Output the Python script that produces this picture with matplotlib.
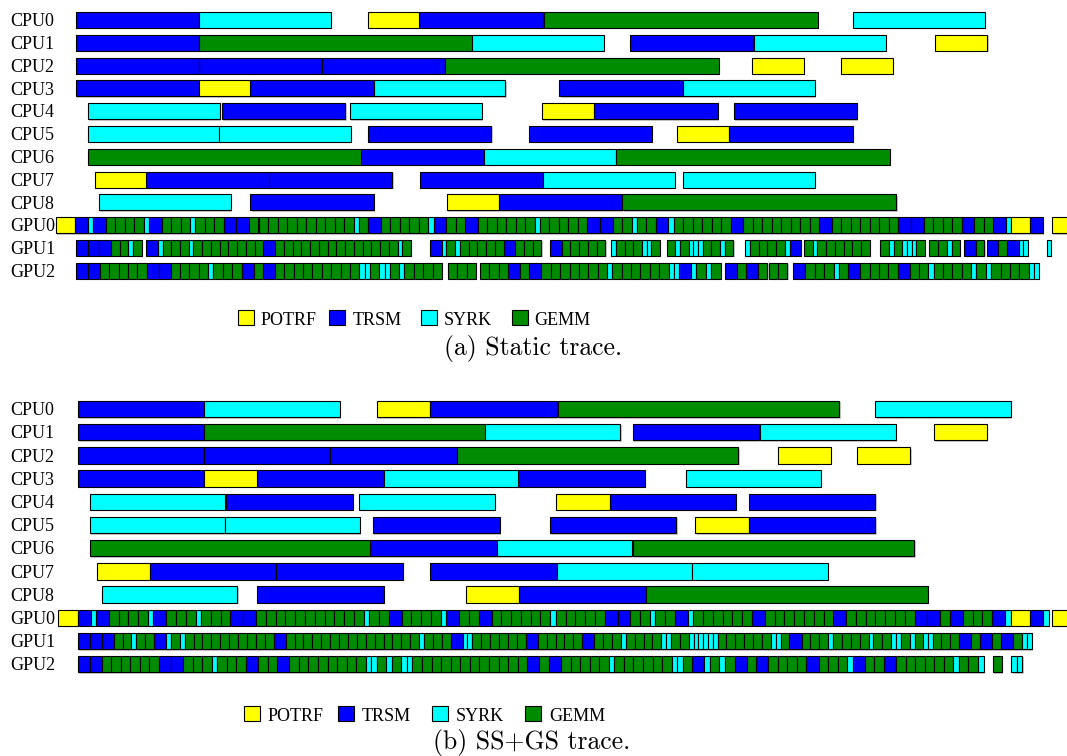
import matplotlib
matplotlib.use("Agg")
import matplotlib.pyplot as plt
from matplotlib.patches import Rectangle

# ---------------- data ----------------
ROWS = ["CPU0", "CPU1", "CPU2", "CPU3", "CPU4", "CPU5", "CPU6", "CPU7", "CPU8",
        "GPU0", "GPU1", "GPU2"]
KERNEL_CODES = ["P", "T", "S", "G"]
KERNEL_NAMES = ["POTRF", "TRSM", "SYRK", "GEMM"]
KERNEL_COLORS = ["#ffff00", "#0000ff", "#00ffff", "#008c00"]
CAPTIONS = ["(a) Static trace.", "(b) SS+GS trace."]

# task durations (time units) per kernel
static_cpu_dur = {"P": 52.0, "T": 123.5, "S": 131.8, "G": 274.0}
ssgs_cpu_dur = {"P": 53.3, "T": 126.7, "S": 135.5, "G": 281.8}

static_gpu_dur = {
    "GPU0": {"P": 19.3, "T": 12.6, "S": 5.2, "G": 9.5},
    "GPU1": {"P": 19.3, "T": 11.7, "S": 4.6, "G": 8.75},
    "GPU2": {"P": 19.3, "T": 12.0, "S": 5.3, "G": 9.37},
}
ssgs_gpu_dur = {
    "GPU0": {"P": 19.8, "T": 12.8, "S": 5.5, "G": 9.79},
    "GPU1": {"P": 19.8, "T": 12.05, "S": 4.8, "G": 8.9},
    "GPU2": {"P": 19.8, "T": 12.05, "S": 5.5, "G": 9.57},
}

# CPU tasks: (start time, kernel)
static_cpu = {
    "CPU0": [(75.8, "T"), (198.7, "S"), (367.8, "P"), (419.4, "T"), (543.8, "G"), (853.0, "S")],
    "CPU1": [(75.8, "T"), (198.7, "G"), (471.8, "S"), (629.9, "T"), (753.8, "S"), (935.3, "P")],
    "CPU2": [(75.8, "T"), (198.7, "T"), (321.6, "T"), (444.6, "G"), (751.8, "P"), (841.0, "P")],
    "CPU3": [(75.8, "T"), (198.7, "P"), (250.3, "T"), (373.6, "S"), (559.3, "T"), (683.2, "S")],
    "CPU4": [(87.8, "S"), (221.8, "T"), (350.2, "S"), (542.0, "P"), (594.0, "T"), (733.5, "T")],
    "CPU5": [(87.8, "S"), (219.0, "S"), (367.8, "T"), (528.6, "T"), (677.4, "P"), (729.4, "T")],
    "CPU6": [(87.8, "G"), (360.5, "T"), (483.8, "S"), (615.7, "G")],
    "CPU7": [(94.7, "P"), (146.3, "T"), (268.9, "T"), (419.8, "T"), (542.7, "S"), (682.9, "S")],
    "CPU8": [(99.2, "S"), (250.3, "T"), (447.0, "P"), (498.6, "T"), (622.3, "G")],
}
ssgs_cpu = {
    "CPU0": [(77.5, "T"), (204.2, "S"), (377.1, "P"), (430.4, "T"), (557.5, "G"), (875.4, "S")],
    "CPU1": [(77.5, "T"), (204.2, "G"), (484.8, "S"), (632.6, "T"), (760.0, "S"), (933.6, "P")],
    "CPU2": [(77.5, "T"), (204.2, "T"), (330.2, "T"), (456.6, "G"), (777.9, "P"), (857.1, "P")],
    "CPU3": [(77.5, "T"), (204.2, "P"), (256.9, "T"), (383.6, "S"), (518.2, "T"), (685.6, "S")],
    "CPU4": [(89.5, "S"), (225.9, "T"), (359.2, "S"), (556.2, "P"), (609.5, "T"), (748.7, "T")],
    "CPU5": [(89.5, "S"), (224.5, "S"), (372.9, "T"), (549.6, "T"), (695.3, "P"), (748.7, "T")],
    "CPU6": [(89.5, "G"), (370.2, "T"), (496.6, "S"), (632.6, "G")],
    "CPU7": [(97.1, "P"), (149.8, "T"), (276.2, "T"), (430.1, "T"), (556.5, "S"), (692.2, "S")],
    "CPU8": [(101.9, "S"), (257.2, "T"), (465.9, "P"), (518.9, "T"), (646.0, "G")],
}

# GPU tasks: (segment start time, back-to-back kernel sequence)
static_gpu = {
    "GPU0": [(56.1, "PTSTGGGGSTGGGSGGGTTGGGGGGGGGGGSGTGGGGGSTGGTGGGGGGSGGGGG"
                    "TTGGSGGTSGGGGGGTGGGGGGGGTGGGGGGGTTGGGGTGGTSPT"),
             (1052.0, "P")],
    "GPU1": [(75.8, "TTTGGSG"),
             (146.3, "TSGGGSGGGGGGGGTGGGGGGGGGGGGGGSG"),
             (430.1, "TSGSGGGGGTGGG"),
             (550.0, "TGGGGG"),
             (611.3, "SGGGSSG"),
             (666.7, "GSGSSSGGSG"),
             (745.3, "SGGGGST"),
             (804.0, "GSGGGGGG"),
             (880.2, "GSGSSSG"),
             (929.4, "GGSG"),
             (963.9, "TG"),
             (986.6, "TGTSS"),
             (1046.5, "S")],
    "GPU2": [(75.8, "TTGGGGGTTGGGGSGGGTGTGGGGGGGGGSSGSSGSGGGG"),
             (448.0, "GGG"),
             (480.0, "GGGTGTGGGGGGGSGGGGGGSSTSGSG"),
             (724.6, "TGTG"),
             (768.6, "GG"),
             (793.4, "TGGGSGTGGGGTGGSGGGGSGSGGGGSS")],
}
ssgs_gpu = {
    "GPU0": [(57.9, "PTSTGGGGSTGGGSGGGTTGGGGGGGGGGGSGGTGGGGSTGGTGGGGGGSGGGGG"
                    "TTGGSGGTSGGGGGGTGGGGGGGTGGGGGGGTTGTGGGTSPTS"),
             (1051.7, "P")],
    "GPU1": [(77.5, "TTTGGSGGTSGSGGGGGGGGGGTGGGGGGGGGGGGGGGSGGGTSSGGGGGGT"
                    "GGGGGTGGGSGGGGSSGGSSSSSSGGGGGGSSGTGGGSGGGGSGGSSGSGS"),
             (927.7, "SGGGTGTGTGSS")],
    "GPU2": [(77.5, "TTGGGGGGTTGGGSGGGTGGTGGGGGGGGSSGSGSSGGGGGGGGGGGGT"
                    "GTGGGGGSGGGGGGSSGTSGSGTGTGGGGTGGGSTGGTGGGGGGSGGS"),
             (992.5, "G"),
             (1011.4, "SS")],
}

# ---------------- layout ----------------
W, H = 1067, 756
fig = plt.figure(figsize=(W / 100, H / 100), dpi=100)
LABEL_FONT = "Liberation Serif"
CAP_FONT = "cmr10"
color_of = dict(zip(KERNEL_CODES, KERNEL_COLORS))

panels = [
    dict(cpu=static_cpu, cpu_dur=static_cpu_dur, gpu=static_gpu, gpu_dur=static_gpu_dur,
         first=20.0, step=22.8,
         leg_y=310.0, leg_sq=[238.3, 329.0, 420.7, 512.0], leg_tx=[261.0, 352.7, 444.0, 534.0],
         cap_x=533.4, cap_y=355.0),
    dict(cpu=ssgs_cpu, cpu_dur=ssgs_cpu_dur, gpu=ssgs_gpu, gpu_dur=ssgs_gpu_dur,
         first=409.0, step=23.2,
         leg_y=706.0, leg_sq=[244.3, 338.0, 432.0, 525.0], leg_tx=[268.0, 362.0, 456.0, 549.0],
         cap_x=532.0, cap_y=749.5),
]

overlay = fig.add_axes([0, 0, 1, 1], zorder=5)
overlay.set_xlim(0, W)
overlay.set_ylim(H, 0)
overlay.axis("off")
overlay.patch.set_alpha(0)

BAR_H = 0.71
for p, cap in zip(panels, CAPTIONS):
    top = p["first"] - p["step"] * 0.5
    bot = p["first"] + p["step"] * (len(ROWS) - 0.5)
    ax = fig.add_axes([0, 1 - bot / H, 1, (bot - top) / H])
    ax.set_xlim(0, W)
    ax.set_ylim(len(ROWS) - 0.5, -0.5)
    ax.axis("off")
    for i, row in enumerate(ROWS):
        lefts, widths, cols = [], [], []
        if row in p["cpu"]:
            for start, k in p["cpu"][row]:
                lefts.append(start)
                widths.append(p["cpu_dur"][k])
                cols.append(color_of[k])
        else:
            for start, seq in p["gpu"][row]:
                x = start
                for k in seq:
                    w = p["gpu_dur"][row][k]
                    lefts.append(x)
                    widths.append(w)
                    cols.append(color_of[k])
                    x += w
        # soft shadow
        ax.barh([i + 0.06] * len(lefts), widths, left=[l + 1.2 for l in lefts],
                height=BAR_H, color="#c8c8c8", linewidth=0, zorder=1)
        ax.barh([i] * len(lefts), widths, left=lefts, height=BAR_H, color=cols,
                edgecolor="black", linewidth=0.8, zorder=2)
        ax.text(10, i + 0.27, row, va="baseline", ha="left", fontsize=13,
                family=LABEL_FONT, zorder=3)

    # legend
    for code, name, sx, tx in zip(KERNEL_CODES, KERNEL_NAMES, p["leg_sq"], p["leg_tx"]):
        overlay.add_patch(Rectangle((sx, p["leg_y"]), 16, 15, facecolor=color_of[code],
                                    edgecolor="black", linewidth=0.8))
        overlay.text(tx, p["leg_y"] + 15, name, va="baseline", ha="left",
                     fontsize=13, family=LABEL_FONT)
    overlay.text(p["cap_x"], p["cap_y"], cap, ha="center", va="baseline",
                 fontsize=18.5, family=CAP_FONT)

fig.savefig("out.png", dpi=100)
